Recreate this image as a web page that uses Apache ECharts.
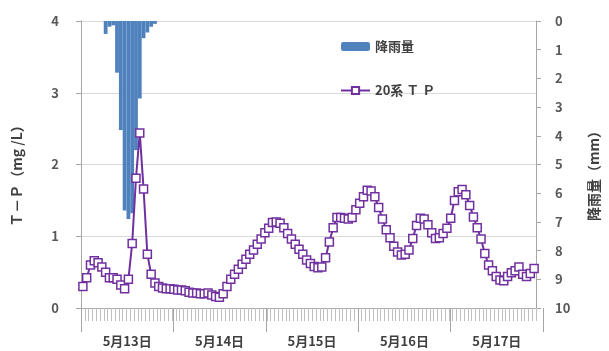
<!DOCTYPE html>
<html>
<head>
<meta charset="utf-8">
<script src="https://cdn.jsdelivr.net/npm/echarts@6/dist/echarts.min.js"></script>
<style>
html,body{margin:0;padding:0;background:#fff;}
#c{width:609px;height:351px;}
</style>
</head>
<body>
<div id="c"></div>
<script>
// ---- data ----
var days = ['5月13日', '5月14日', '5月15日', '5月16日', '5月17日'];
var hours = ['0:00','1:00','2:00','3:00','4:00','5:00','6:00','7:00','8:00','9:00','10:00','11:00',
             '12:00','13:00','14:00','15:00','16:00','17:00','18:00','19:00','20:00','21:00','22:00','23:00'];

// hourly rainfall (mm), 120 hours
var rainfall = [
  0,0,0,0,0,0,0.45,0.2,0.15,1.8,3.8,6.6,6.9,6.7,4.5,2.7,0.6,0.4,0.2,0.1,
  0,0,0,0,0,0,0,0,0,0,0,0,0,0,0,0,0,0,0,0,
  0,0,0,0,0,0,0,0,0,0,0,0,0,0,0,0,0,0,0,0,
  0,0,0,0,0,0,0,0,0,0,0,0,0,0,0,0,0,0,0,0,
  0,0,0,0,0,0,0,0,0,0,0,0,0,0,0,0,0,0,0,0,
  0,0,0,0,0,0,0,0,0,0,0,0,0,0,0,0,0,0,0,0
];

// hourly T-P (mg/L), 120 hours
var tp20 = [
  0.30,0.42,0.60,0.66,0.63,0.57,0.50,0.42,0.42,0.40,
  0.32,0.27,0.40,0.90,1.81,2.44,1.66,0.75,0.47,0.35,
  0.30,0.28,0.27,0.27,0.26,0.25,0.25,0.24,0.22,0.21,
  0.21,0.20,0.20,0.21,0.18,0.16,0.15,0.20,0.30,0.40,
  0.47,0.54,0.61,0.68,0.75,0.81,0.89,0.96,1.05,1.11,
  1.19,1.20,1.18,1.12,1.04,0.96,0.89,0.82,0.75,0.67,
  0.62,0.58,0.56,0.57,0.70,0.92,1.12,1.26,1.26,1.25,
  1.24,1.26,1.37,1.46,1.55,1.64,1.63,1.55,1.40,1.24,
  1.09,0.98,0.86,0.78,0.74,0.75,0.81,0.97,1.15,1.25,
  1.24,1.16,1.05,0.97,0.98,1.04,1.11,1.25,1.50,1.62,
  1.65,1.58,1.43,1.27,1.12,0.96,0.76,0.60,0.52,0.44,
  0.39,0.38,0.44,0.49,0.52,0.57,0.47,0.44,0.48,0.55
];

var tpTicks = [0, 1, 2, 3, 4];
var rainTicks = [0, 10];

var rainName = '降雨量';
var tpName = '20系 Ｔ Ｐ';

// categories built from days x hours
var categories = [];
days.forEach(function (d) { hours.forEach(function (h) { categories.push(d + ' ' + h); }); });

var FONT = '"Noto Sans CJK JP", "Noto Sans", sans-serif';
var GRID = {left: 81, right: 66, top: 21, bottom: 43, containLabel: false};

var chart = echarts.init(document.getElementById('c'), null, {renderer: 'canvas'});
chart.setOption({
  animation: false,
  backgroundColor: '#fff',
  textStyle: {fontFamily: FONT},
  grid: [GRID, GRID],
  legend: {
    orient: 'vertical',
    left: 340,
    top: 40,
    padding: 0,
    itemWidth: 29,
    itemHeight: 9,
    itemGap: 31,
    data: [rainName, tpName],
    textStyle: {fontFamily: FONT, fontSize: 13, color: '#404040', fontWeight: 'bold'}
  },
  xAxis: [
    {
      type: 'category',
      gridIndex: 0,
      data: categories,
      boundaryGap: true,
      axisLine: {show: true, lineStyle: {color: '#a6a6a6', width: 1}},
      axisTick: {show: true, interval: 0, length: 13, lineStyle: {color: '#bfbfbf', width: 1}},
      axisLabel: {show: false},
      splitLine: {show: false}
    },
    {
      type: 'category',
      gridIndex: 1,
      data: days,
      position: 'bottom',
      offset: 19,
      boundaryGap: true,
      axisLine: {show: false},
      axisTick: {show: true, interval: 0, length: 24, lineStyle: {color: '#a6a6a6', width: 1}},
      axisLabel: {show: true, interval: 0, margin: 8, fontSize: 13, color: '#404040', fontWeight: 'bold', fontFamily: FONT},
      splitLine: {show: false}
    }
  ],
  yAxis: [
    {
      type: 'value',
      gridIndex: 0,
      min: tpTicks[0],
      max: tpTicks[tpTicks.length - 1],
      interval: 1,
      position: 'left',
      name: 'Ｔ－Ｐ（mg /L）',
      nameLocation: 'middle',
      nameRotate: 90,
      nameGap: 57,
      nameTextStyle: {fontFamily: FONT, fontSize: 14, color: '#404040', fontWeight: 'bold', padding: [0, 16, 0, 0]},
      axisLine: {show: true, lineStyle: {color: '#a6a6a6'}},
      axisTick: {show: true, length: 5, lineStyle: {color: '#a6a6a6'}},
      axisLabel: {margin: 22, fontSize: 13, color: '#595959', fontWeight: 'bold', fontFamily: FONT},
      splitLine: {show: true, lineStyle: {color: '#d9d9d9', width: 1}}
    },
    {
      type: 'value',
      gridIndex: 0,
      min: rainTicks[0],
      max: rainTicks[1],
      interval: 1,
      inverse: true,
      position: 'right',
      name: '降雨量（mm）',
      nameLocation: 'middle',
      nameRotate: 90,
      nameGap: 51,
      nameTextStyle: {fontFamily: FONT, fontSize: 14, color: '#404040', fontWeight: 'bold', padding: [0, 16, 0, 0]},
      axisLine: {show: true, lineStyle: {color: '#a6a6a6'}},
      axisTick: {show: true, length: 5, lineStyle: {color: '#a6a6a6'}},
      axisLabel: {margin: 19, fontSize: 13, color: '#595959', fontWeight: 'bold', fontFamily: FONT},
      splitLine: {show: false}
    },
    {
      type: 'value',
      gridIndex: 1,
      min: 0,
      max: 1,
      show: false
    }
  ],
  series: [
    {
      name: rainName,
      type: 'bar',
      xAxisIndex: 0,
      yAxisIndex: 1,
      data: rainfall,
      barWidth: '100%',
      barCategoryGap: '0%',
      itemStyle: {color: '#4f81bd'},
      z: 2
    },
    {
      name: tpName,
      type: 'line',
      xAxisIndex: 0,
      yAxisIndex: 0,
      data: tp20,
      symbol: 'rect',
      symbolSize: 8,
      showAllSymbol: true,
      lineStyle: {color: '#7030a0', width: 2},
      itemStyle: {color: '#ffffff', borderColor: '#7030a0', borderWidth: 1.5},
      z: 3
    }
  ]
});
</script>
</body>
</html>
